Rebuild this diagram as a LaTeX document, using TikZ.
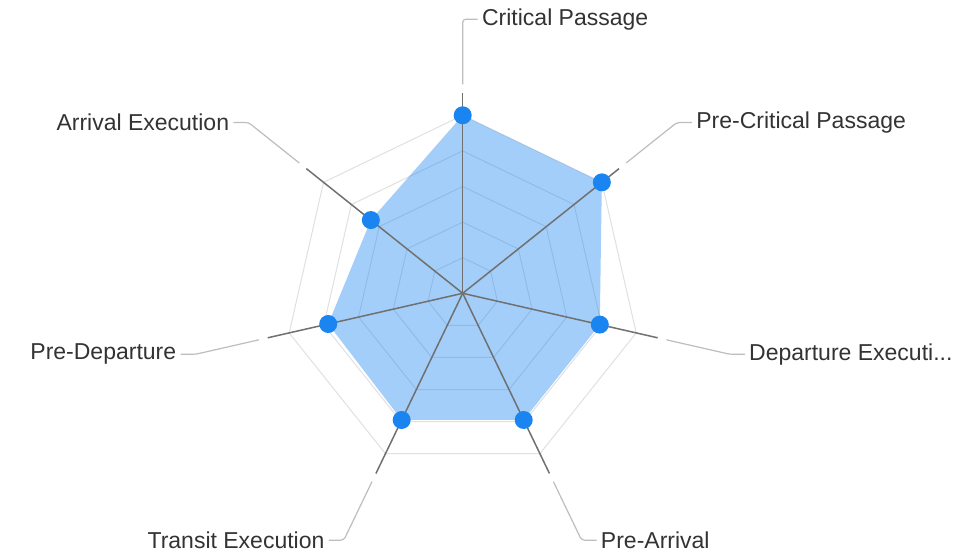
\documentclass[tikz,border=0pt]{standalone}
\usepackage{fontspec}
\setmainfont{Liberation Sans}
\usetikzlibrary{positioning}

\definecolor{gridgray}{HTML}{E0E0E0}
\definecolor{spokegray}{HTML}{707070}
\definecolor{leadergray}{HTML}{BDBDBD}
\definecolor{labelgray}{HTML}{333333}
\definecolor{dotblue}{HTML}{1A85F0}

\begin{document}
\begin{tikzpicture}[x=0.5pt, y=0.5pt,
                    every node/.style={font=\fontsize{11.5}{14}\selectfont, text=labelgray, inner sep=0pt},
                    grid/.style={draw=gridgray, line width=0.5pt},
                    spoke/.style={draw=spokegray, line width=0.75pt},
                    leader/.style={draw=leadergray, line width=0.6pt, rounded corners=1.5pt},
                    area/.style={fill=dotblue, fill opacity=0.4},
                    dot/.style={circle, fill=dotblue, minimum size=9pt}]

\useasboundingbox (-462.7,-265.7) rectangle (508.3,293.3);

\coordinate (O) at (0,0);

% web
\foreach \r in {35.6,71.2,106.8,142.4,178}
  \draw[grid] (90:\r) \foreach \k in {1,...,6} { -- ({90-\k*360/7}:\r) } -- cycle;

% axes: name/angle/value
\foreach \n/\a/\v in {cp/90/1, pcp/38.571/1, de/-12.857/0.79, pa/-64.286/0.79,
                      te/-115.714/0.79, pd/-167.143/0.775, ae/141.429/0.66} {
  \coordinate (\n-v) at ({\a}:{178*\v});
  \coordinate (\n-x) at ({\a}:200);
  \coordinate (\n-s) at ({\a}:209);
  \coordinate (\n-k) at ({\a}:274);
}

\fill[area] (cp-v) -- (pcp-v) -- (de-v) -- (pa-v) -- (te-v) -- (pd-v) -- (ae-v) -- cycle;

\foreach \n in {cp,pcp,de,pa,te,pd,ae}
  \draw[spoke] (O) -- (\n-x);

% leaders
\foreach \n in {cp,pcp,de,pa} {
  \coordinate[right=7.5pt of \n-k] (\n-e);
  \draw[leader] (\n-s) -- (\n-k) -- (\n-e);
}
\foreach \n in {te,pd,ae} {
  \coordinate[left=7.5pt of \n-k] (\n-e);
  \draw[leader] (\n-s) -- (\n-k) -- (\n-e);
}

\foreach \n in {cp,pcp,de,pa,te,pd,ae}
  \node[dot] (\n-d) at (\n-v) {};

\node[right=2pt of cp-e] (cp-l) {Critical Passage};
\node[right=2pt of pcp-e] (pcp-l) {Pre-Critical Passage};
\node[right=2pt of de-e] (de-l) {Departure Executi...};
\node[right=2pt of pa-e] (pa-l) {Pre-Arrival};
\node[left=2pt of te-e] (te-l) {Transit Execution};
\node[left=2pt of pd-e] (pd-l) {Pre-Departure};
\node[left=2pt of ae-e] (ae-l) {Arrival Execution};
\end{tikzpicture}
\end{document}
